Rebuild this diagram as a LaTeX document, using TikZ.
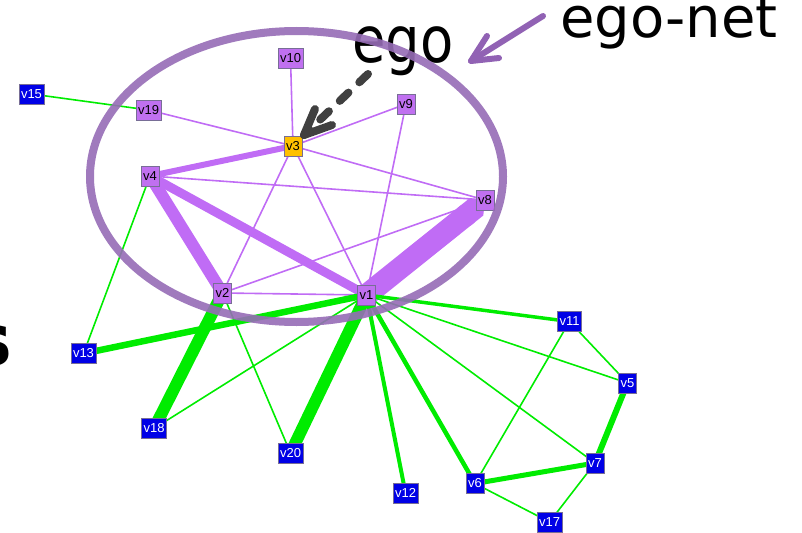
\documentclass[tikz,border=0pt]{standalone}
\usepackage{fontspec}
\setmainfont{DejaVu Sans}
\newfontfamily\labelfont{Liberation Sans}
\usetikzlibrary{arrows.meta}

\definecolor{egopurple}{RGB}{192,108,245}
\definecolor{nodepurple}{RGB}{192,112,240}
\definecolor{egoyellow}{RGB}{255,192,0}
\definecolor{altergreen}{RGB}{0,236,0}
\definecolor{alterblue}{RGB}{0,0,230}
\definecolor{ringpurple}{RGB}{150,108,182}
\definecolor{pointerpurple}{RGB}{145,98,180}
\definecolor{pointergray}{RGB}{64,64,64}
\definecolor{boxedge}{RGB}{120,110,150}

\pgfdeclarelayer{background}
\pgfsetlayers{background,main}

\tikzset{
  vert/.style={draw=boxedge, line width=0.6pt, minimum height=20pt,
    inner xsep=2pt, inner ysep=0pt,
    font=\labelfont\fontsize{13}{13}\selectfont},
  innervert/.style={vert, fill=nodepurple, text=black},
  egovert/.style={vert, fill=egoyellow, text=black},
  outervert/.style={vert, fill=alterblue, text=white},
  pe/.style={draw=egopurple, line width=#1},
  ge/.style={draw=altergreen, line width=#1},
  pe/.default=1.6pt,
  ge/.default=1.6pt,
  bigtext/.style={anchor=base west, inner sep=0pt, font=\fontsize{#1}{#1}\selectfont},
  pointer/.style={line cap=round, line join=round},
}

\begin{document}
\begin{tikzpicture}[x=1pt,y=-1pt]
\useasboundingbox (0,0) rectangle (802,532);

% ego and ego-net members
\node[egovert]   (v3)  at (293,146)   {v3};
\node[innervert] (v10) at (290.5,58)  {v10};
\node[innervert] (v19) at (148.5,110) {v19};
\node[innervert] (v9)  at (406,104)   {v9};
\node[innervert] (v4)  at (150,176)   {v4};
\node[innervert] (v8)  at (485,200)   {v8};
\node[innervert] (v2)  at (222.5,293) {v2};
\node[innervert] (v1)  at (366.5,295) {v1};

% remaining vertices
\node[outervert] (v15) at (31.5,94)   {v15};
\node[outervert] (v13) at (83.5,353.5){v13};
\node[outervert] (v18) at (154,428.5) {v18};
\node[outervert] (v20) at (290.5,453) {v20};
\node[outervert] (v12) at (405.5,493) {v12};
\node[outervert] (v6)  at (475,483.5) {v6};
\node[outervert] (v17) at (549.5,522) {v17};
\node[outervert] (v7)  at (595,463)   {v7};
\node[outervert] (v5)  at (627.5,383) {v5};
\node[outervert] (v11) at (569.5,321.5){v11};

\begin{pgfonlayer}{background}
  % edges inside the ego-net
  \draw[pe] (v19.center) -- (v3.center);
  \draw[pe] (v10.center) -- (v3.center);
  \draw[pe] (v9.center) -- (v3.center);
  \draw[pe] (v9.center) -- (v1.center);
  \draw[pe] (v3.center) -- (v2.center);
  \draw[pe] (v3.center) -- (v1.center);
  \draw[pe] (v3.center) -- (v8.center);
  \draw[pe] (v4.center) -- (v8.center);
  \draw[pe] (v8.center) -- (v2.center);
  \draw[pe] (v2.center) -- (v1.center);
  \draw[pe=6pt] (v4.center) -- (v3.center);
  \draw[pe=12pt] (v4.center) -- (v2.center);
  \draw[pe=9pt] (v4.center) -- (v1.center);
  \draw[pe=22pt, -{Triangle Cap[]}] (v1.center) -- (v8.center);

  % edges leaving the ego-net
  \draw[ge] (v15.center) -- (v19.center);
  \draw[ge] (v4.center) -- (v13.center);
  \draw[ge=12pt] (v2.center) -- (v18.center);
  \draw[ge] (v2.center) -- (v20.center);
  \draw[ge=6.5pt] (v1.center) -- (v13.center);
  \draw[ge] (v1.center) -- (v18.center);
  \draw[ge=12pt] (v1.center) -- (v20.center);
  \draw[ge=4pt] (v1.center) -- (v12.center);
  \draw[ge=4.5pt] (v1.center) -- (v6.center);
  \draw[ge] (v1.center) -- (v7.center);
  \draw[ge] (v1.center) -- (v5.center);
  \draw[ge=3.5pt] (v1.center) -- (v11.center);

  % edges among the outer vertices
  \draw[ge] (v11.center) -- (v6.center);
  \draw[ge] (v11.center) -- (v5.center);
  \draw[ge=6pt] (v5.center) -- (v7.center);
  \draw[ge=5pt] (v7.center) -- (v6.center);
  \draw[ge] (v6.center) -- (v17.center);
  \draw[ge] (v7.center) -- (v17.center);
\end{pgfonlayer}

% captions
\node[bigtext=56] (egonet) at (560,38) {ego-net};
\node[bigtext=64, xscale=0.85] (egolabel) at (352,63) {ego};
\node[bigtext=72, font=\bfseries\fontsize{72}{72}\selectfont] (cutword) at (-31,365) {s};

% ring around the ego-net
\draw[ringpurple, line width=8pt, opacity=0.9] (296.5,176.5) ellipse [x radius=206.5, y radius=145.5];

% pointer to the whole ego-net
\coordinate (netfrom) at (543,16);
\coordinate (netto) at (471,61);
\coordinate (netwingA) at (487,36);
\coordinate (netwingB) at (499,58);
\draw[pointer, pointerpurple, line width=6pt] (netfrom) -- (netto);
\draw[pointer, pointerpurple, line width=6pt] (netwingA) -- (netto) -- (netwingB);

% dashed pointer to the ego vertex
\coordinate (egofrom) at (368,74);
\coordinate (egoto) at (304,135);
\coordinate (egowingA) at (315,109);
\coordinate (egowingB) at (332,125);
\draw[pointer, pointergray, line width=8pt, dash pattern=on 12pt off 15pt] (egofrom) -- (egoto);
\draw[pointer, pointergray, line width=8pt] (egowingA) -- (egoto) -- (egowingB);
\end{tikzpicture}
\end{document}
